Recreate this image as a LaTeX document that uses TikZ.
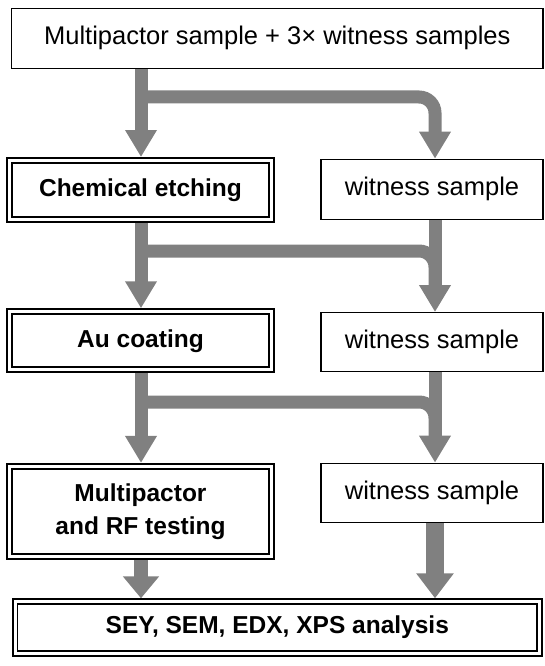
\documentclass[tikz,border=0pt]{standalone}
\usepackage{fontspec}
\setmainfont{Liberation Sans}
\usetikzlibrary{arrows.meta,backgrounds}
\definecolor{arrgray}{RGB}{128,128,128}
\begin{document}
\begin{tikzpicture}[x=1pt,y=-1pt,
  plainbox/.style={draw=black, line width=1.3pt, fill=white, inner sep=0pt, align=center,
    font=\fontsize{25.5}{30}\selectfont},
  dblbox/.style={draw=black, double=white, line width=1.9pt, double distance=3pt, fill=white,
    inner sep=0pt, outer sep=3.5pt, align=center, font=\bfseries\fontsize{24.5}{33}\selectfont},
  flow/.style={draw=arrgray, line width=13pt, -{Triangle[width=30pt,length=27pt]}},
  flowbar/.style={draw=arrgray, line width=13pt, rounded corners=16pt},
  ]
\useasboundingbox (0,0) rectangle (545,666);

\node[plainbox, minimum width=531.5pt, minimum height=60pt] (top) at (277.3,38.3)
  {Multipactor sample + 3× witness samples};

\node[dblbox, minimum width=262pt, minimum height=59pt] (chem) at (140.5,190) {Chemical etching};
\node[plainbox, minimum width=222pt, minimum height=60pt] (w1) at (432,189.3) {witness sample};

\node[dblbox, minimum width=262pt, minimum height=58pt] (au) at (140.5,340.8) {Au coating};
\node[plainbox, minimum width=222pt, minimum height=59pt] (w2) at (432,342.2) {witness sample};

\node[dblbox, minimum width=262pt, minimum height=90pt] (mp) at (140.5,511.4) {Multipactor\\and RF testing};
\node[plainbox, minimum width=222pt, minimum height=59.4pt] (w3) at (432,493) {witness sample};

\node[dblbox, minimum width=524.5pt, minimum height=51.4pt] (final) at (277.3,627.5) {SEY, SEM, EDX, XPS analysis};

\coordinate (L) at (141,0);
\coordinate (R) at (435,0);
\coordinate (b1) at (0,97);
\coordinate (b2) at (0,251);
\coordinate (b3) at (0,402);

\begin{scope}[on background layer]
  % level 1
  \draw[flow] (top.south -| L) -- (chem.north -| L);
  \draw[flow, rounded corners=16pt] (L |- b1) -- (R |- b1) -- (w1.north -| R);
  % level 2
  \draw[flow] (chem.south -| L) -- (au.north -| L);
  \draw[flow] (w1.south -| R) -- (w2.north -| R);
  \draw[flowbar] (L |- b2) -- (R |- b2) -- ++(0,40);
  % level 3
  \draw[flow] (au.south -| L) -- (mp.north -| L);
  \draw[flow] (w2.south -| R) -- (w3.north -| R);
  \draw[flowbar] (L |- b3) -- (R |- b3) -- ++(0,40);
  % final
  \draw[draw=arrgray, line width=14pt, -{Triangle[width=35pt,length=22pt]}] (mp.south -| L) -- (final.north -| L);
  \draw[draw=arrgray, line width=18pt, -{Triangle[width=36pt,length=25pt]}] (w3.south -| R) -- (final.north -| R);
\end{scope}
\end{tikzpicture}
\end{document}
